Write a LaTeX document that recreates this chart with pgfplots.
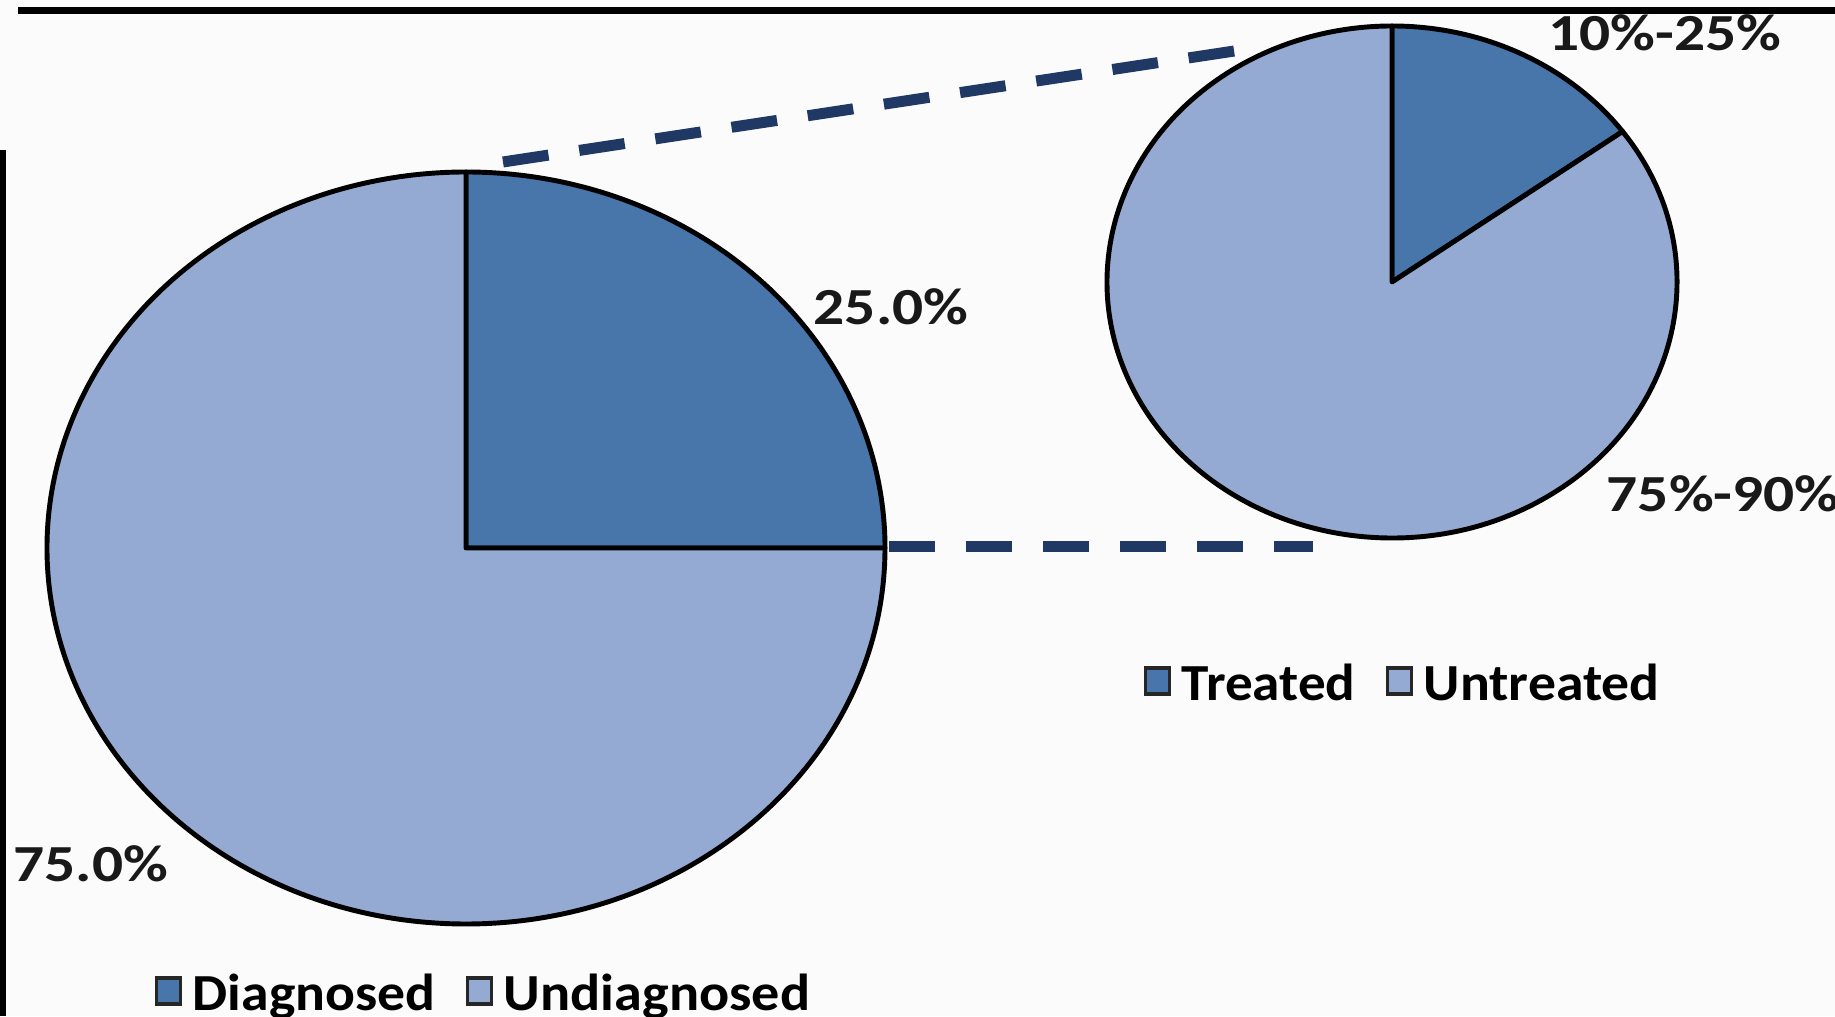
\documentclass[border=0pt]{standalone}
\usepackage{pgfplots}
\pgfplotsset{compat=1.18}
\usepackage{pgfplotstable}
\usepackage{graphicx}
\usepackage{fontspec}
\setmainfont{Carlito}

\definecolor{darkslice}{RGB}{72,117,170}
\definecolor{lightslice}{RGB}{149,170,210}
\definecolor{navy}{RGB}{31,56,100}
\definecolor{paper}{RGB}{251,251,251}

\pgfplotstableread{
name value
Diagnosed 25
Undiagnosed 75
}\diagtable
\pgfplotstableread{
name value
Treated 15
Untreated 85
}\treattable

% bold text, stretched a bit sideways like the scan
\newcommand{\lbl}[2][1.18]{\scalebox{#1}[1]{\fontsize{14.8}{17}\selectfont\bfseries #2}}

% one wedge of an elliptic pie: cx, cy, rx, ry (canvas units), start, end, colour
\newcommand{\pieslice}[7]{%
  \filldraw[fill=#7, draw=black, line width=1.4pt, line join=round]
    (axis cs:#1,#2) -- (axis cs:{#1+#3*cos(#5)},{#2+#4*sin(#5)})
    arc[start angle=#5, end angle=#6, x radius=#3*0.01cm, y radius=#4*0.01cm] -- cycle;
}

\pgfplotsset{
  canvas/.style={
    x=0.01cm, y=0.01cm, xmin=0, xmax=1835, ymin=0, ymax=1016,
    hide axis, clip=false, anchor=south west, at={(0,0)},
    legend image code/.code={\draw[##1, draw=black!85, line width=0.9pt] (0cm,-0.09cm) rectangle (0.24cm,0.17cm);},
    legend style={draw=none, fill=none, legend columns=2, inner sep=0pt,
      nodes={inner xsep=3pt, inner ysep=2pt},
      /tikz/every even column/.style={column sep=0.2cm}},
  },
}

\begin{document}
\begin{tikzpicture}
\pgfplotstablegetelem{0}{value}\of\diagtable \let\vDiag\pgfplotsretval
\pgfplotstablegetelem{1}{value}\of\diagtable \let\vUndiag\pgfplotsretval
\pgfplotstablegetelem{0}{value}\of\treattable \let\vTreat\pgfplotsretval
\pgfplotstablegetelem{1}{value}\of\treattable \let\vUntreat\pgfplotsretval
\pgfmathsetmacro{\aDiag}{90-3.6*\vDiag}
\pgfmathsetmacro{\aUndiag}{\aDiag-3.6*\vUndiag}
\pgfmathsetmacro{\aTreat}{90-3.6*\vTreat}
\pgfmathsetmacro{\aUntreat}{\aTreat-3.6*\vUntreat}

% main pie
\begin{axis}[canvas,
  legend style={at={(488/1835,21/1016)}, anchor=center}]
  \coordinate (sw) at (axis cs:0,0);
  \coordinate (ne) at (axis cs:1835,1016);
  \fill[paper] (axis cs:0,0) rectangle (axis cs:1835,1016);
  \fill[black] (axis cs:18,1002) rectangle (axis cs:1835,1009);
  \fill[black] (axis cs:0,0) rectangle (axis cs:6,866);
  \pieslice{466}{468}{419}{376}{90}{\aDiag}{darkslice}
  \pieslice{466}{468}{419}{376}{\aDiag}{\aUndiag}{lightslice}
  \draw[navy, line width=0.11cm, dash pattern=on 0.46cm off 0.31cm]
    (axis cs:503,854) -- (axis cs:1241,966);
  \draw[navy, line width=0.11cm, dash pattern=on 0.46cm off 0.31cm]
    (axis cs:889,469) -- (axis cs:1313,469);
  \node[inner sep=0pt, text=black!90] at (axis cs:891,709) {\lbl{25.0\%}};
  \node[inner sep=0pt, text=black!90] at (axis cs:91,152) {\lbl{75.0\%}};
  \addlegendimage{fill=darkslice}
  \addlegendentry{\lbl[1.07]{Diagnosed}}
  \addlegendimage{fill=lightslice}
  \addlegendentry{\lbl[1.08]{Undiagnosed}}
\end{axis}

% breakdown of the diagnosed share
\begin{axis}[canvas,
  legend style={at={(1407/1835,331/1016)}, anchor=center}]
  \pieslice{1392}{734}{285}{256}{90}{\aTreat}{darkslice}
  \pieslice{1392}{734}{285}{256}{\aTreat}{\aUntreat}{lightslice}
  \node[inner sep=0pt, text=black!90] at (axis cs:1665,983) {\lbl{10\%-25\%}};
  \node[inner sep=0pt, anchor=west, text=black!90] at (axis cs:1606,522) {\lbl{75\%-90\%}};
  \addlegendimage{fill=darkslice}
  \addlegendentry{\lbl[1.06]{Treated}}
  \addlegendimage{fill=lightslice}
  \addlegendentry{\lbl[1.07]{Untreated}}
\end{axis}
\pgfresetboundingbox
\path[use as bounding box] (sw) rectangle (ne);
\end{tikzpicture}
\end{document}
